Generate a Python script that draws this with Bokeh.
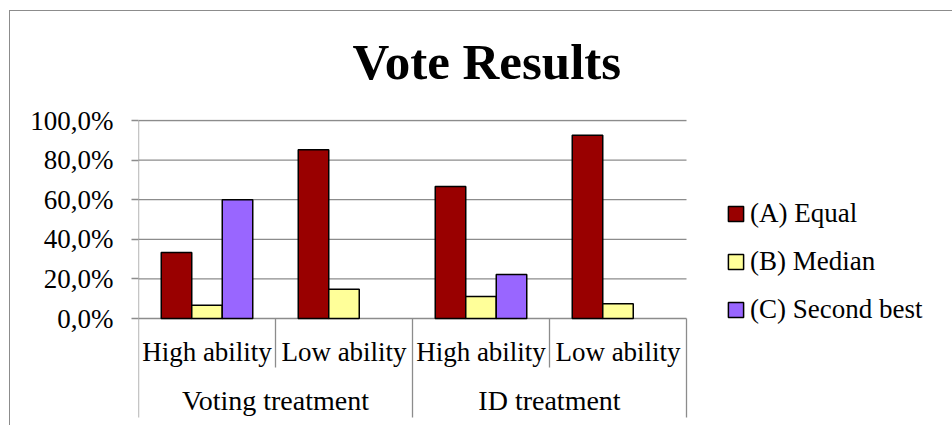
from bokeh.plotting import figure
from bokeh.models import Range1d, FixedTicker, Legend, LegendItem
from bokeh.embed import file_html
from bokeh.resources import INLINE

# ---- data -------------------------------------------------------------
groups = ["Voting treatment", "ID treatment"]
abilities = ["High ability", "Low ability", "High ability", "Low ability"]
series = ["(A) Equal", "(B) Median", "(C) Second best"]
equal = [0.333, 0.852, 0.667, 0.926]
median = [0.067, 0.148, 0.111, 0.074]
second_best = [0.600, 0.0, 0.222, 0.0]
colors = ["#990000", "#FFFF99", "#9966FF"]
tick_values = [0.0, 0.2, 0.4, 0.6, 0.8, 1.0]
tick_labels = ["0,0%", "20,0%", "40,0%", "60,0%", "80,0%", "100,0%"]

# ---- layout (pixels) --------------------------------------------------
FONT = "Liberation Serif"
GRAY = "#8c8c8c"
W, H = 952, 425
FRAME_L, FRAME_T, FRAME_B = 138, 119, 425
ZERO_PX = 318          # pixel row of the 0 % line
UNIT_PX = 198          # pixels spanned by 100 %
CAT_PX = 137           # pixels per category slot
BAR_W = 30.5 / CAT_PX  # bar width in category units

n = len(abilities)
y_top = (ZERO_PX - FRAME_T) / UNIT_PX
y_bot = -(FRAME_B - ZERO_PX) / UNIT_PX
x_end = (W - FRAME_L) / CAT_PX


def below(px):
    """Convert a pixel distance under the 0 % line to data units."""
    return -px / UNIT_PX


p = figure(width=W, height=H,
           x_range=Range1d(0, x_end), y_range=Range1d(y_bot, y_top),
           output_backend="svg", toolbar_location=None,
           min_border_left=FRAME_L, min_border_right=0,
           min_border_top=FRAME_T, min_border_bottom=H - FRAME_B)
p.outline_line_color = None
p.background_fill_color = "white"
p.border_fill_color = None
# thin grey chart border (top and left edges visible in the window)
p.styles = {
    "background-color": "white",
    "background-image": "linear-gradient(#8c8c8c, #8c8c8c), linear-gradient(#8c8c8c, #8c8c8c)",
    "background-size": "960px 1.4px, 1.4px 430px",
    "background-position": "9px 10px, 9px 10px",
    "background-repeat": "no-repeat",
}

# title
p.title.text = "Vote Results"
p.title.text_font = FONT
p.title.text_font_size = "51px"
p.title.text_font_style = "bold"
p.title.text_color = "black"
p.title.align = "left"
p.title.offset = 214
p.title.standoff = 59

# value axis (its line is drawn below together with the category dividers)
p.xaxis.visible = False
p.xgrid.visible = False
p.ygrid.visible = False
p.yaxis.ticker = FixedTicker(ticks=tick_values)
p.yaxis.major_label_overrides = dict(zip(tick_values, tick_labels))
p.yaxis.axis_line_color = None
p.yaxis.major_tick_line_color = GRAY
p.yaxis.major_tick_line_width = 1.3
p.yaxis.major_tick_out = 7
p.yaxis.major_tick_in = 0
p.yaxis.minor_tick_line_color = None
p.yaxis.major_label_standoff = 18
p.yaxis.major_label_text_font = FONT
p.yaxis.major_label_text_font_size = "27px"
p.yaxis.major_label_text_color = "black"

# horizontal gridlines across the category slots only
p.segment(x0=[0] * len(tick_values), y0=tick_values,
          x1=[n] * len(tick_values), y1=tick_values,
          line_color=GRAY, line_width=1.3)

# clustered bars
renderers = []
for i, vals in enumerate([equal, median, second_best]):
    keep = [k for k in range(n) if vals[k] > 0]
    xs = [k + 0.5 + (i - 1) * BAR_W for k in keep]
    tops = [vals[k] for k in keep]
    r = p.vbar(x=xs, top=tops, bottom=0, width=BAR_W,
               fill_color=colors[i], line_color="black", line_width=1.5)
    renderers.append(r)

# two-level category axis drawn under the 0 % line
p.segment(x0=[0], y0=[max(tick_values)], x1=[0], y1=[below(99)],
          line_color=GRAY, line_width=1.3)
p.segment(x0=[1, 3], y0=[0, 0], x1=[1, 3], y1=[below(49)] * 2,
          line_color=GRAY, line_width=1.3)
p.segment(x0=[2, 4], y0=[0, 0], x1=[2, 4], y1=[below(99)] * 2,
          line_color=GRAY, line_width=1.3)
p.text(x=[k + 0.5 for k in range(n)], y=[below(33)] * n, text=abilities,
       text_align="center", text_baseline="middle",
       text_font={"value": FONT}, text_font_size="27px", text_color="black")
p.text(x=[1, 3], y=[below(82)] * 2, text=groups,
       text_align="center", text_baseline="middle",
       text_font={"value": FONT}, text_font_size="28px", text_color="black")

# legend to the right of the bars
legend = Legend(items=[LegendItem(label=s, renderers=[r]) for s, r in zip(series, renderers)],
                location=(588, 100), orientation="vertical",
                border_line_color=None, background_fill_alpha=0,
                padding=0, margin=0, spacing=17, label_height=30,
                glyph_width=19, glyph_height=19, label_standoff=5,
                label_text_font=FONT, label_text_font_size="27px",
                label_text_color="black")
p.add_layout(legend)

open("out.html", "w").write(file_html(p, INLINE))
